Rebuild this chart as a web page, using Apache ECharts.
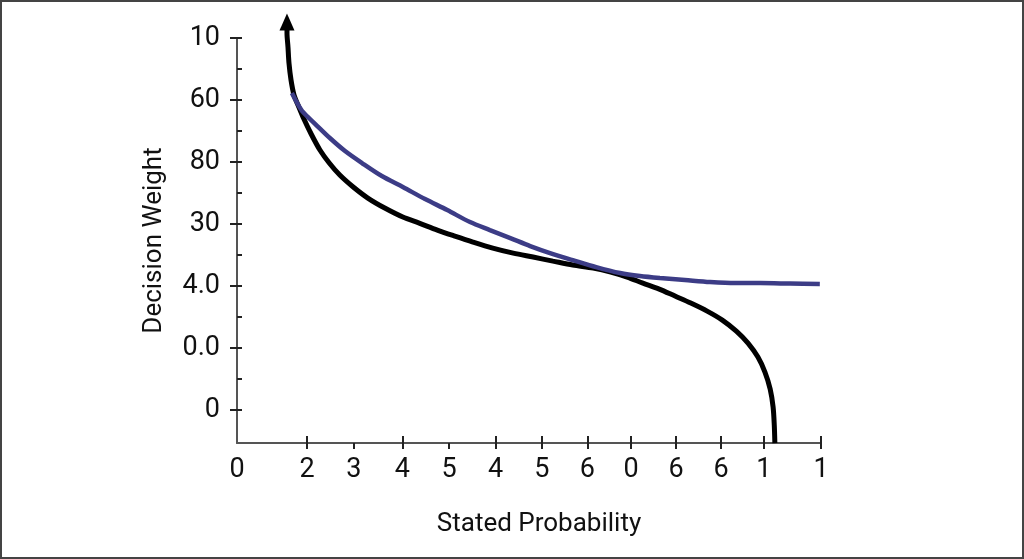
<!DOCTYPE html>
<html>
<head>
<meta charset="utf-8">
<script src="https://cdn.jsdelivr.net/npm/echarts@6/dist/echarts.min.js"></script>
<style>
    html, body { margin: 0; padding: 0; background: #fff; }
    #wrap { position: relative; width: 1024px; height: 559px; }
    #chart { width: 1024px; height: 559px; }
    #frame {
        position: absolute; left: 0; top: 0; right: 0; bottom: 0;
        border: 2px solid #444; pointer-events: none;
    }
</style>
</head>
<body>
<div id="wrap">
    <div id="chart"></div>
    <div id="frame"></div>
</div>
<script>
// x axis: tick positions and their (printed) labels
const xTickValues = [0.12, 0.2, 0.283, 0.363, 0.443, 0.522, 0.6, 0.675, 0.752, 0.829, 0.902, 1];
const xLongTicks = [0.12, 0.283, 0.443, 0.522, 0.6, 0.675, 0.752, 0.829, 0.902, 1];
const xLabelValues = [0, 0.12, 0.2, 0.283, 0.363, 0.443, 0.522, 0.6, 0.675, 0.752, 0.829, 0.902, 1];
const xLabels = ['0', '2', '3', '4', '5', '4', '5', '6', '0', '6', '6', '1', '1'];

// y axis
const yTickValues = [0, 1, 2, 3, 4, 5, 6];
const yMinorValues = [0, 0.5, 1, 1.5, 2, 2.5, 3, 3.5, 4, 4.5, 5, 5.5, 6];
const yLabels = ['0', '0.0', '4.0', '30', '80', '60', '10'];

// black curve (drawn bottom -> top, ends in the arrow)
const blackX = [0.921, 0.920, 0.918, 0.913, 0.904, 0.892, 0.875, 0.855, 0.831, 0.805,
    0.777, 0.750, 0.723, 0.695, 0.668, 0.640, 0.610, 0.575, 0.541, 0.507,
    0.473, 0.438, 0.404, 0.373, 0.343, 0.312, 0.284, 0.253, 0.224, 0.199,
    0.176, 0.158, 0.142, 0.127, 0.113, 0.1045, 0.0976, 0.0925, 0.089, 0.0873,
    0.0856, 0.0856];
const blackY = [-0.532, -0.242, 0.048, 0.339, 0.613, 0.855, 1.081, 1.274, 1.452, 1.597,
    1.726, 1.839, 1.952, 2.048, 2.145, 2.226, 2.290, 2.339, 2.403, 2.468,
    2.532, 2.613, 2.710, 2.806, 2.903, 3.016, 3.113, 3.258, 3.419, 3.597,
    3.790, 3.984, 4.194, 4.452, 4.726, 4.919, 5.081, 5.323, 5.597, 5.855,
    6.081, 6.258];

// blue curve
const blueX = [0.094, 0.103, 0.113, 0.134, 0.159, 0.185, 0.214, 0.248, 0.284, 0.322,
    0.360, 0.399, 0.433, 0.468, 0.502, 0.536, 0.575, 0.615, 0.656, 0.690,
    0.724, 0.767, 0.810, 0.853, 0.896, 0.947, 0.998];
const blueY = [5.113, 4.952, 4.806, 4.613, 4.387, 4.177, 3.984, 3.774, 3.597, 3.403,
    3.226, 3.032, 2.903, 2.774, 2.645, 2.532, 2.419, 2.306, 2.210, 2.161,
    2.129, 2.097, 2.065, 2.048, 2.048, 2.040, 2.032];

const FONT = 'Roboto';

function pairs(xs, ys) {
    return xs.map((x, i) => [x, ys[i]]);
}

function initChart() {
    let blackData = pairs(blackX, blackY);
    let last = blackData.pop();
    blackData.push({
        value: last,
        symbol: 'triangle',
        symbolSize: [15, 17]
    });

    let options = {
        animation: false,
        grid: {
            left: 237,
            right: 203,
            top: 38,
            bottom: 116
        },
        xAxis: [{
            type: 'value',
            min: 0,
            max: 1,
            name: 'Stated Probability',
            nameLocation: 'middle',
            nameGap: 68,
            nameTextStyle: {
                fontFamily: FONT,
                fontSize: 26,
                color: '#111',
                padding: [0, 0, 0, 20]
            },
            axisLine: {
                show: true,
                onZero: false,
                lineStyle: { color: '#555', width: 2 }
            },
            axisTick: {
                show: true,
                inside: false,
                length: 6,
                customValues: xTickValues,
                lineStyle: { color: '#222', width: 2 }
            },
            axisLabel: {
                show: true,
                margin: 14,
                fontFamily: FONT,
                fontSize: 27,
                color: '#111',
                customValues: xLabelValues,
                formatter: function (v) {
                    let i = xLabelValues.indexOf(v);
                    return i >= 0 ? xLabels[i] : '';
                }
            },
            splitLine: { show: false }
        }, {
            type: 'value',
            min: 0,
            max: 1,
            position: 'bottom',
            axisLine: { show: false, onZero: false },
            axisTick: {
                show: true,
                inside: true,
                length: 7,
                customValues: xLongTicks,
                lineStyle: { color: '#222', width: 2 }
            },
            axisLabel: { show: false },
            splitLine: { show: false }
        }],
        yAxis: [{
            type: 'value',
            min: -0.53,
            max: 6,
            name: 'Decision Weight',
            nameLocation: 'middle',
            nameGap: 70,
            nameTextStyle: {
                fontFamily: FONT,
                fontSize: 26,
                color: '#111'
            },
            axisLine: {
                show: true,
                onZero: false,
                lineStyle: { color: '#555', width: 2 }
            },
            axisTick: {
                show: true,
                inside: false,
                length: 7,
                customValues: yTickValues,
                lineStyle: { color: '#222', width: 2 }
            },
            axisLabel: {
                show: true,
                margin: 17,
                fontFamily: FONT,
                fontSize: 27,
                color: '#111',
                customValues: yTickValues,
                formatter: function (v) {
                    let i = yTickValues.indexOf(v);
                    return i >= 0 ? yLabels[i] : '';
                }
            },
            splitLine: { show: false }
        }, {
            type: 'value',
            min: -0.53,
            max: 6,
            position: 'left',
            offset: 0,
            axisLine: { show: false, onZero: false },
            axisTick: {
                show: true,
                inside: true,
                length: 5,
                customValues: yMinorValues,
                lineStyle: { color: '#222', width: 2 }
            },
            axisLabel: { show: false },
            splitLine: { show: false }
        }],
        series: [{
            name: 'black',
            type: 'line',
            clip: false,
            smooth: 0.3,
            symbol: 'none',
            showSymbol: true,
            z: 2,
            itemStyle: { color: '#000' },
            lineStyle: { color: '#000', width: 5 },
            data: blackData
        }, {
            name: 'blue',
            type: 'line',
            clip: false,
            smooth: 0.3,
            symbol: 'none',
            z: 3,
            lineStyle: { color: '#3c3c86', width: 4.5 },
            data: pairs(blueX, blueY)
        }]
    };
    let chart = echarts.init(document.getElementById('chart'));
    chart.setOption(options);
}

initChart();
</script>
</body>
</html>
